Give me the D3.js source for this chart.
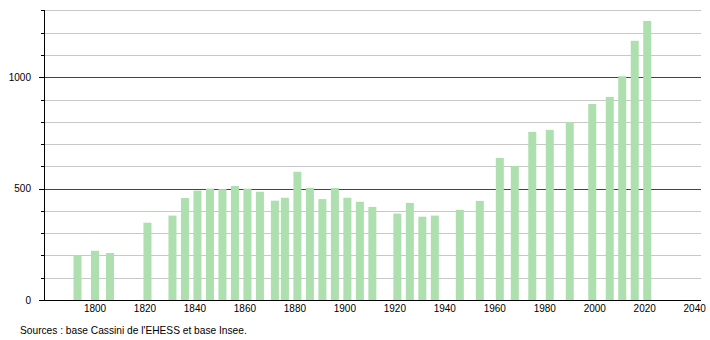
<!DOCTYPE html>
<html>
<head>
<meta charset="utf-8">
<script src="https://cdn.jsdelivr.net/npm/d3@7"></script>
<style>
  html, body { margin: 0; padding: 0; background: #fff; }
  svg { display: block; }
  text { font-family: "Liberation Sans", Arial, sans-serif; }
</style>
</head>
<body>
<svg id="chart" width="710" height="340"></svg>
<script>
const years = [1793, 1800, 1806, 1821, 1831, 1836, 1841, 1846, 1851, 1856, 1861, 1866, 1872, 1876, 1881, 1886, 1891, 1896, 1901, 1906, 1911, 1921, 1926, 1931, 1936, 1946, 1954, 1962, 1968, 1975, 1982, 1990, 1999, 2006, 2011, 2016, 2021];
const population = [202, 221, 211, 347, 379, 458, 491, 500, 498, 512, 500, 486, 446, 459, 576, 504, 453, 503, 459, 441, 418, 388, 436, 374, 379, 405, 445, 638, 602, 755, 764, 798, 880, 912, 1005, 1164, 1253];
const xTicks = [1800, 1820, 1840, 1860, 1880, 1900, 1920, 1940, 1960, 1980, 2000, 2020, 2040];
const yMajorTicks = [0, 500, 1000];
const yMinorTicks = [100, 200, 300, 400, 600, 700, 800, 900, 1100, 1200, 1300];
const sourceText = "Sources : base Cassini de l'EHESS et base Insee.";

const svg = d3.select("#chart");
const plotLeft = 44, plotRight = 701, plotTop = 10, plotBottom = 300;

const x = d3.scaleLinear().domain([1800, 2040]).range([95, 694.7]);
const y = d3.scaleLinear().domain([0, 1000]).range([plotBottom, 77.3]);
const py = d => Math.round(y(d)) + 0.5;

// minor gridlines
svg.append("g").selectAll("line").data(yMinorTicks).join("line")
  .attr("x1", plotLeft).attr("x2", plotRight)
  .attr("y1", py).attr("y2", py)
  .attr("stroke", "#c8c8c8").attr("stroke-width", 1);

// major gridlines
svg.append("g").selectAll("line").data(yMajorTicks.filter(d => d > 0)).join("line")
  .attr("x1", plotLeft).attr("x2", plotRight)
  .attr("y1", py).attr("y2", py)
  .attr("stroke", "#444").attr("stroke-width", 1);

// bars
const barW = 8;
svg.append("g").selectAll("rect").data(years).join("rect")
  .attr("x", d => x(d) - barW / 2)
  .attr("width", barW)
  .attr("y", (d, i) => y(population[i]))
  .attr("height", (d, i) => plotBottom - y(population[i]))
  .attr("fill", "#aedfae");

// y axis line
svg.append("line")
  .attr("x1", plotLeft + 0.5).attr("x2", plotLeft + 0.5)
  .attr("y1", plotTop).attr("y2", plotBottom)
  .attr("stroke", "#000").attr("stroke-width", 1);

// y ticks
svg.append("g").selectAll("line").data(yMinorTicks).join("line")
  .attr("x1", plotLeft - 3).attr("x2", plotLeft)
  .attr("y1", py).attr("y2", py)
  .attr("stroke", "#000");
svg.append("g").selectAll("line").data(yMajorTicks).join("line")
  .attr("x1", plotLeft - 5).attr("x2", plotLeft)
  .attr("y1", py).attr("y2", py)
  .attr("stroke", "#000");

// y labels
svg.append("g").selectAll("text").data(yMajorTicks).join("text")
  .attr("x", 31).attr("y", d => y(d) + 3.5)
  .attr("text-anchor", "end")
  .attr("font-size", 10).attr("fill", "#000")
  .text(d => d);

// x axis line
svg.append("line")
  .attr("x1", plotLeft - 5).attr("x2", plotRight)
  .attr("y1", plotBottom + 0.5).attr("y2", plotBottom + 0.5)
  .attr("stroke", "#000").attr("stroke-width", 1);

// x labels
svg.append("g").selectAll("text").data(xTicks).join("text")
  .attr("x", d => x(d)).attr("y", 312)
  .attr("text-anchor", "middle")
  .attr("font-size", 10).attr("fill", "#000")
  .text(d => d);

// source
svg.append("text")
  .attr("x", 20).attr("y", 333.5)
  .attr("font-size", 10.2).attr("fill", "#000")
  .text(sourceText);
</script>
</body>
</html>
